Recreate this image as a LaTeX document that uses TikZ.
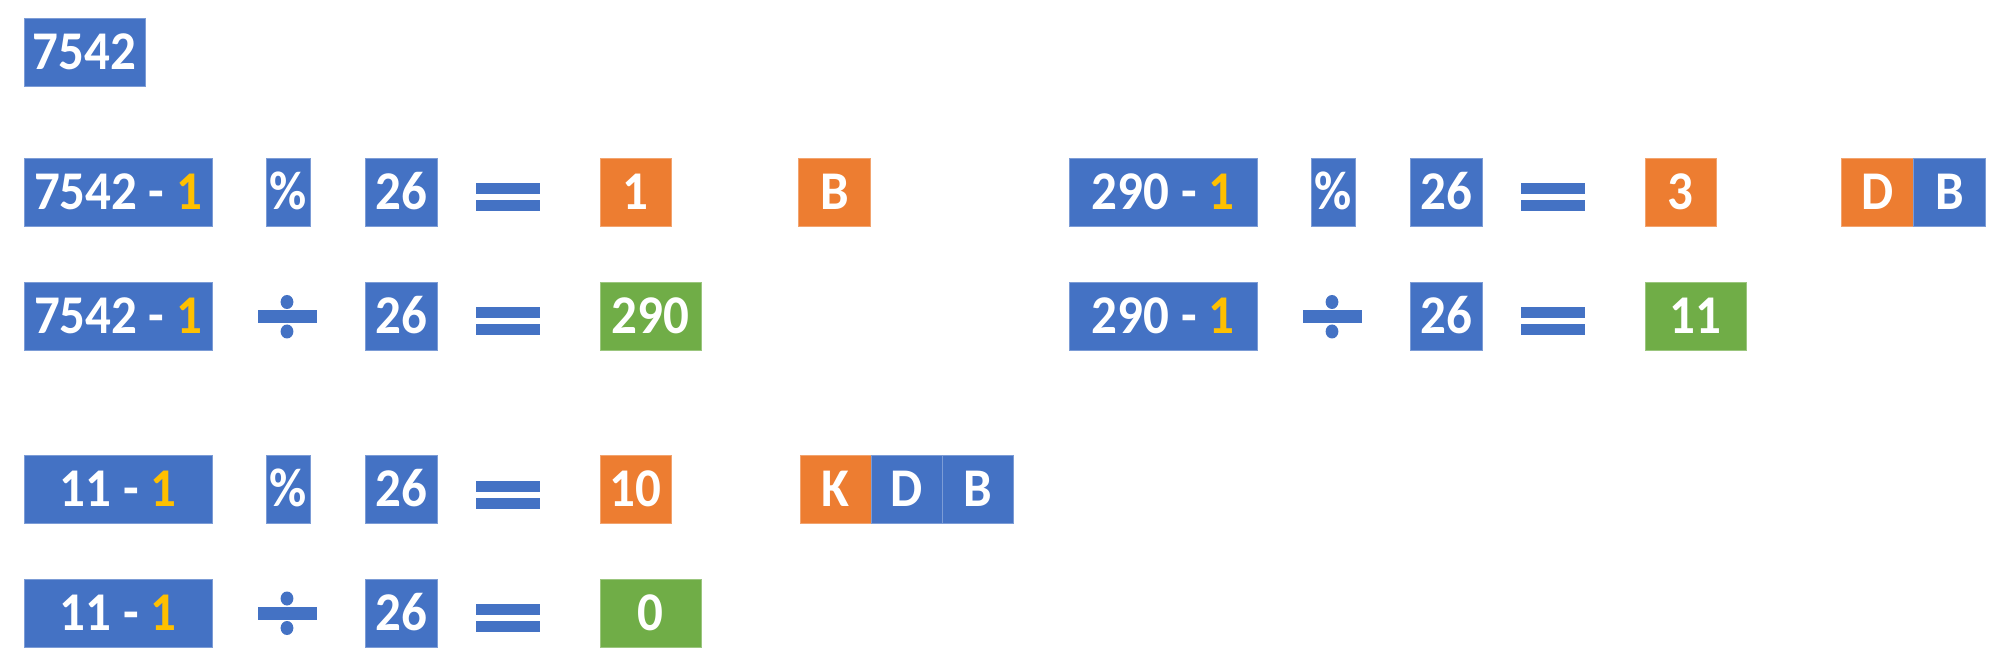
\documentclass[tikz,border=0pt]{standalone}
\usepackage{fontspec}
\setmainfont{Carlito}
\definecolor{cblue}{HTML}{4472C4}
\definecolor{corange}{HTML}{ED7D31}
\definecolor{cgreen}{HTML}{70AD47}
\definecolor{cgold}{HTML}{FFC000}
\newcommand\myeq[2]{\fill[cblue] (#1-32,#2-9) rectangle (#1+32,#2+2); \fill[cblue] (#1-32,#2+8) rectangle (#1+32,#2+19);}
\newcommand\mydiv[2]{\fill[cblue] (#1-29.5,#2-6.5) rectangle (#1+29.5,#2+6.5); \fill[cblue] (#1,#2-14.5) ellipse[x radius=3.2pt, y radius=3.5pt]; \fill[cblue] (#1,#2+15) ellipse[x radius=3.2pt, y radius=3.5pt];}
\newcommand\one{\textcolor{cgold}{1}}
\newcommand\tx[1]{\scalebox{1}[1.07]{#1}}
\tikzset{
 bx/.style={rectangle, inner sep=0pt, minimum height=34pt, text height=17.2pt, text depth=0pt, text=white, font=\fontsize{25.5}{30}\selectfont\bfseries, line width=0.5pt},
 bb/.style={bx, fill=cblue, draw=cblue!70!white},
 ob/.style={bx, fill=corange, draw=corange!70!white},
 gb/.style={bx, fill=cgreen, draw=cgreen!70!white},
 wd/.style={minimum width=#1*0.5pt}
}
\begin{document}
\begin{tikzpicture}[x=0.5pt,y=-0.5pt]
\useasboundingbox (0,0) rectangle (2014,668);
% row 0
\node[bb,wd=121] (r0) at (84.5,52.5) {\tx{7542}};
% row 1 left
\node[bb,wd=188] (a1) at (118,192.5) {\tx{7542 - \one}};
\node[bb,wd=44] (m1) at (288,192.5) {\tx{\%}};
\node[bb,wd=72] (n1) at (401,192.5) {\tx{26}};
\myeq{508}{192.5}
\node[ob,wd=71] (res1) at (635.5,192.5) {\tx{1}};
\node[ob,wd=72] (l1b) at (834.5,192.5) {\tx{B}};
% row 2 left
\node[bb,wd=188] (a2) at (118,316.5) {\tx{7542 - \one}};
\mydiv{287}{316.5}
\node[bb,wd=72] (n2) at (401,316.5) {\tx{26}};
\myeq{508}{316.5}
\node[gb,wd=101] (res2) at (650.5,316.5) {\tx{290}};
% row 1 right
\node[bb,wd=188] (a3) at (1163,192.5) {\tx{290 - \one}};
\node[bb,wd=44] (m3) at (1333,192.5) {\tx{\%}};
\node[bb,wd=72] (n3) at (1446,192.5) {\tx{26}};
\myeq{1553}{192.5}
\node[ob,wd=71] (res3) at (1680.5,192.5) {\tx{3}};
\node[ob,wd=72] (l3d) at (1877.5,192.5) {\tx{D}};
\node[bb,wd=72] (l3b) at (1949.5,192.5) {\tx{B}};
% row 2 right
\node[bb,wd=188] (a4) at (1163,316.5) {\tx{290 - \one}};
\mydiv{1332}{316.5}
\node[bb,wd=72] (n4) at (1446,316.5) {\tx{26}};
\myeq{1553}{316.5}
\node[gb,wd=101] (res4) at (1695.5,316.5) {\tx{11}};
% row 3
\node[bb,wd=188] (a5) at (118,489.5) {\tx{11 - \one}};
\node[bb,wd=44] (m5) at (288,489.5) {\tx{\%}};
\node[bb,wd=72] (n5) at (401,489.5) {\tx{26}};
\myeq{508}{489.5}
\node[ob,wd=71] (res5) at (635.5,489.5) {\tx{10}};
\node[ob,wd=71] (l5k) at (835.5,489.5) {\tx{K}};
\node[bb,wd=71] (l5d) at (906.5,489.5) {\tx{D}};
\node[bb,wd=71] (l5b) at (977.5,489.5) {\tx{B}};
% row 4
\node[bb,wd=188] (a6) at (118,613) {\tx{11 - \one}};
\mydiv{287}{613}
\node[bb,wd=72] (n6) at (401,613) {\tx{26}};
\myeq{508}{613}
\node[gb,wd=101] (res6) at (650.5,613) {\tx{0}};
\end{tikzpicture}
\end{document}
